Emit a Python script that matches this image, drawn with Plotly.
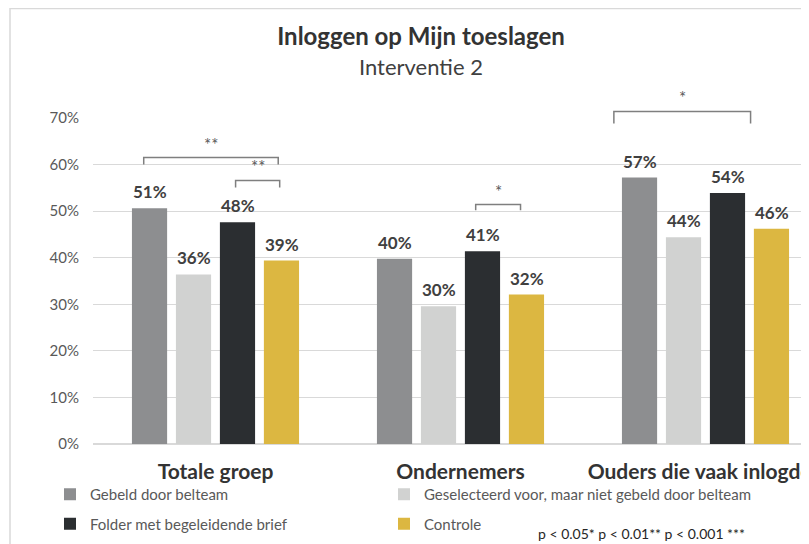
import plotly.graph_objects as go

categories = ["Totale groep", "Ondernemers", "Ouders die vaak inlogden"]
series_names = [
    "Gebeld door belteam",
    "Geselecteerd voor, maar niet gebeld door belteam",
    "Folder met begeleidende brief",
    "Controle",
]
gebeld = [50.6, 39.8, 57.2]
geselecteerd = [36.4, 29.6, 44.4]
folder = [47.6, 41.4, 53.9]
controle = [39.4, 32.1, 46.2]
series_values = [gebeld, geselecteerd, folder, controle]
colors = ["#8d8e90", "#d1d2d1", "#2b2e31", "#dcb741"]
legend_ids = ["legend", "legend2", "legend", "legend2"]

# significance brackets: (x0, x1, y_top_pct, leg_pct, label)
brackets = [
    (-0.293, 0.256, 61.5, 1.5, "**"),
    (0.082, 0.262, 56.6, 1.5, "**"),
    (1.062, 1.245, 51.4, 1.2, "*"),
    (1.626, 2.184, 71.4, 2.6, "*"),
]

FONT = "Lato"
W, H = 801, 536          # page body adds an 8px margin
ML, MR, MT, MB = 85, 0, 110, 100
YMAX = 0.70
slot_px = 44
pw = W - ML - MR
ph = H - MT - MB
bottom = H - MB


def px_x(px):
    return (px - ML) / pw


def px_y(py):
    return (bottom - py) / ph


fig = go.Figure()
for name, vals, col, lg in zip(series_names, series_values, colors, legend_ids):
    fig.add_trace(go.Bar(
        x=list(range(len(categories))), y=[v / 100 for v in vals], name=name,
        marker=dict(color=col, line=dict(width=0)), legend=lg, legendgroup=name,
        hovertemplate="%{y:.0%}<extra>" + name + "</extra>",
    ))

annotations = []
for i, vals in enumerate(series_values):
    for c, v in enumerate(vals):
        annotations.append(dict(
            x=c, y=v / 100, xref="x", yref="y", text=f"<b>{v:.0f}%</b>",
            showarrow=False, xshift=(i - 1.5) * slot_px, yanchor="bottom", yshift=4,
            font=dict(family=FONT, size=17, color="#404040"),
        ))

shapes = []
for x0, x1, ytop, leg, lab in brackets:
    yt = ytop / 100 / YMAX
    yb = (ytop - leg) / 100 / YMAX
    shapes.append(dict(
        type="path", xref="x", yref="paper",
        path=f"M {x0},{yb} L {x0},{yt} L {x1},{yt} L {x1},{yb}",
        line=dict(color="#7f7f7f", width=1.5),
    ))
    annotations.append(dict(
        x=(x0 + x1) / 2, y=yt, xref="x", yref="paper", text=lab, showarrow=False,
        yanchor="bottom", yshift=1, font=dict(family=FONT, size=17, color="#595959"),
    ))

# subtitle
annotations.append(dict(
    x=px_x(413), y=px_y(58), xref="paper", yref="paper", text="Interventie 2",
    showarrow=False, xanchor="center", yanchor="middle",
    font=dict(family=FONT, size=22, color="#404040"),
))

# significance note
annotations.append(dict(
    x=px_x(528), y=px_y(525), xref="paper", yref="paper",
    text="p &lt; 0.05* p &lt; 0.01** p &lt; 0.001 ***", showarrow=False, xanchor="left",
    yanchor="middle", font=dict(family=FONT, size=14, color="#262626"),
))

# outer frame
shapes.append(dict(
    type="rect", xref="paper", yref="paper",
    x0=px_x(2), x1=px_x(W + 40), y0=px_y(H + 20), y1=px_y(0.5),
    line=dict(color="#d9d9d9", width=1.5), fillcolor="rgba(0,0,0,0)", layer="below",
))

legend_common = dict(
    orientation="v", xanchor="left", yanchor="top", tracegroupgap=7,
    font=dict(family=FONT, size=15, color="#595959"),
    bgcolor="rgba(0,0,0,0)", itemclick=False, itemdoubleclick=False,
)

fig.update_layout(
    width=W, height=H,
    margin=dict(l=ML, r=MR, t=MT, b=MB, autoexpand=False),
    paper_bgcolor="white", plot_bgcolor="white",
    font=dict(family=FONT, color="#595959"),
    title=dict(
        text="<b>Inloggen op Mijn toeslagen</b>",
        x=413 / W, xanchor="center", xref="container",
        y=1 - 29 / H, yanchor="middle",
        font=dict(family=FONT, size=24, color="#333333"),
    ),
    barmode="group", bargap=0.282, bargroupgap=0.2,
    xaxis=dict(
        type="linear", range=[-0.5, -0.5 + pw / 245.0],
        tickmode="array", tickvals=list(range(len(categories))),
        ticktext=[f"<b>{c}</b>" for c in categories],
        tickfont=dict(family=FONT, size=21, color="#333333"),
        showgrid=False, zeroline=False, showline=False, ticks="", ticklabelstandoff=13,
        ticklabeloverflow="allow", automargin=False,
    ),
    yaxis=dict(
        range=[0, YMAX], tickformat=".0%", dtick=0.1,
        tickfont=dict(family=FONT, size=15, color="#595959"),
        showgrid=True, gridcolor="#d9d9d9", gridwidth=1,
        zeroline=True, zerolinecolor="#d9d9d9", zerolinewidth=1.5,
        ticks="", ticklabelstandoff=13, automargin=False,
    ),
    legend=dict(x=px_x(42), y=px_y(470), **legend_common),
    legend2=dict(x=px_x(376), y=px_y(470), **legend_common),
    shapes=shapes,
    annotations=annotations,
    showlegend=True,
)

fig.write_html("out.html")
